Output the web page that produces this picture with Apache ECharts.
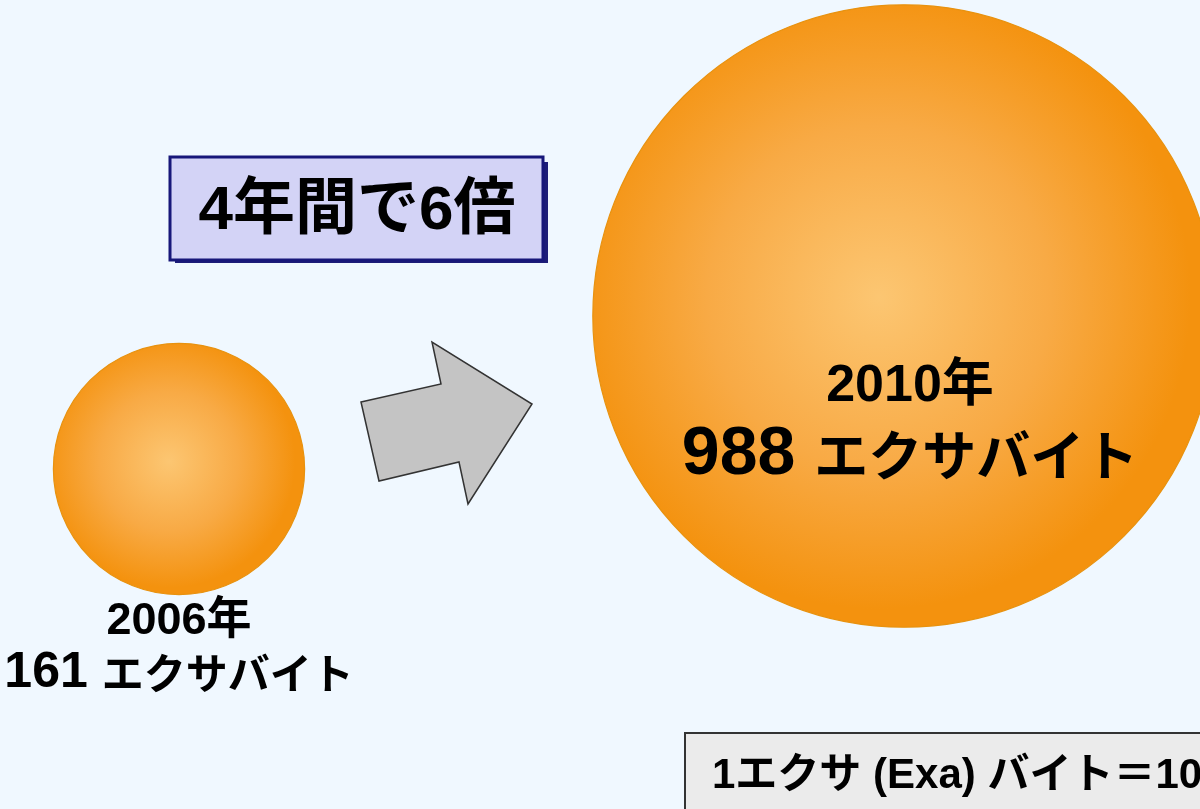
<!DOCTYPE html>
<html lang="ja">
<head>
<meta charset="utf-8">
<title>データ量の推移</title>
<script src="https://cdn.jsdelivr.net/npm/echarts@6/dist/echarts.min.js"></script>
<style>
  html, body { margin: 0; padding: 0; background: #f0f8ff; }
  #chart { width: 1200px; height: 809px; }
</style>
</head>
<body>
<div id="chart"></div>
<script>
// Years and total data volume (exabytes)
const years = ['2006年', '2010年'];
const volumes = [161, 988];
const unitLabel = 'エクサバイト';
const growthLabel = '4年間で6倍';
const noteLabel = '1エクサ (Exa) バイト＝10の18乗バイト';

const JP = '"Noto Sans CJK JP", sans-serif';
const NUM = '"Liberation Sans", "Noto Sans CJK JP", sans-serif';

// bubble area proportional to the value
const sizeOf = v => Math.sqrt(v) * 19.8;

const sphere = new echarts.graphic.RadialGradient(0.46, 0.47, 0.5, [
  { offset: 0, color: '#fcc672' },
  { offset: 0.55, color: '#f8aa45' },
  { offset: 1, color: '#f4920e' }
]);

const bubbleText = p => `{yr|${p.name}}\n{num|${p.value[1]} }{unit|${unitLabel}}`;

const labelSmall = {
  show: true,
  position: 'bottom',
  distance: 0,
  formatter: bubbleText,
  rich: {
    yr: { fontFamily: NUM, fontWeight: 'bold', fontSize: 45, lineHeight: 52, color: '#000' },
    num: { fontFamily: NUM, fontWeight: 'bold', fontSize: 50, lineHeight: 52, color: '#000' },
    unit: { fontFamily: JP, fontWeight: 'bold', fontSize: 42, lineHeight: 52, color: '#000' }
  }
};

const labelLarge = {
  show: true,
  position: 'inside',
  offset: [6, 105],
  formatter: bubbleText,
  rich: {
    yr: { fontFamily: NUM, fontWeight: 'bold', fontSize: 52, lineHeight: 68, color: '#000' },
    num: { fontFamily: NUM, fontWeight: 'bold', fontSize: 68, lineHeight: 68, color: '#000' },
    unit: { fontFamily: JP, fontWeight: 'bold', fontSize: 54, lineHeight: 68, color: '#000' }
  }
};

const data = years.map((y, i) => ({
  name: y,
  value: [y, volumes[i]],
  label: i === 0 ? labelSmall : labelLarge
}));

const chart = echarts.init(document.getElementById('chart'), null, { renderer: 'canvas' });

chart.setOption({
  backgroundColor: '#f0f8ff',
  animation: false,
  grid: { left: 179, right: 296, top: 128.8, bottom: 310.2 },
  xAxis: { type: 'category', data: years, boundaryGap: false, show: false },
  yAxis: { type: 'value', min: 0, max: 2000, show: false },
  series: [{
    type: 'scatter',
    clip: false,
    data: data,
    symbol: 'circle',
    symbolSize: val => sizeOf(val[1]),
    itemStyle: {
      color: sphere,
      borderColor: '#e8920f',
      borderWidth: 1.2,
      opacity: 1
    },
    emphasis: { disabled: true }
  }],
  graphic: [
    // growth arrow
    {
      type: 'polygon',
      shape: { points: [[361, 402], [441, 384], [432, 342], [532, 404], [468, 504], [459, 462], [379, 481]] },
      style: { fill: '#c4c4c4', stroke: '#333333', lineWidth: 1.5 },
      z: 10
    },
    // callout box shadow
    {
      type: 'rect',
      shape: { x: 175, y: 162, width: 373, height: 101 },
      style: { fill: '#1d1d78' },
      z: 10
    },
    // callout box
    {
      type: 'rect',
      shape: { x: 170, y: 157, width: 373, height: 103 },
      style: { fill: '#d3d3f6', stroke: '#17177a', lineWidth: 3 },
      z: 11
    },
    {
      type: 'text',
      x: 357, y: 212,
      style: {
        text: growthLabel,
        fontFamily: NUM, fontWeight: 'bold', fontSize: 62,
        fill: '#000', align: 'center', verticalAlign: 'middle'
      },
      z: 12
    },
    // unit note box
    {
      type: 'rect',
      shape: { x: 685, y: 733, width: 560, height: 120 },
      style: { fill: '#ebebeb', stroke: '#333333', lineWidth: 2 },
      z: 10
    },
    {
      type: 'text',
      x: 712, y: 776,
      style: {
        text: noteLabel,
        fontFamily: NUM, fontWeight: 'bold', fontSize: 42,
        fill: '#000', align: 'left', verticalAlign: 'middle'
      },
      z: 11
    }
  ]
});
</script>
</body>
</html>
